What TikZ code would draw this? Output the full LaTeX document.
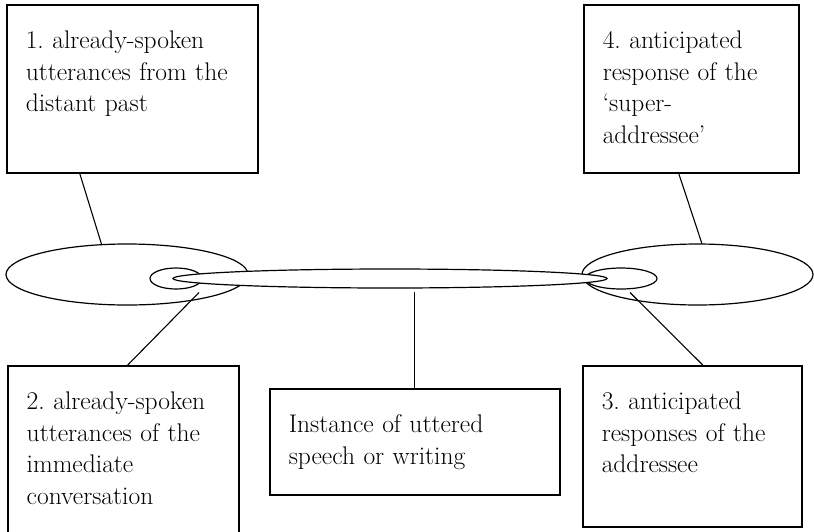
\documentclass[tikz,border=0pt]{standalone}
\usetikzlibrary{shapes.geometric,positioning}

\begin{document}
\frenchspacing
\begin{tikzpicture}[x=1pt,y=-1pt,
    txtbox/.style={draw,line width=1.5pt,anchor=north west,align=left,
        inner xsep=19pt,inner ysep=0pt,text height=43.7pt,
        font=\fontsize{25.5}{31.6}\selectfont},
    ring/.style={draw,ellipse,line width=1.2pt,fill=white,inner sep=0pt},
    link/.style={line width=1.1pt}]
    \clip (0,0) rectangle (814,531);

    % Boxes
    \node[txtbox,text width=213pt,text depth=124.3pt] (past) at (6,4)
        {1. already-spoken\\utterances from the\\distant past};
    \node[txtbox,text width=177pt,text depth=124.3pt] (super) at (583,4)
        {4. anticipated\\response of the\\‘super-\\addressee’};
    \node[txtbox,text width=193pt,text depth=131.3pt] (near) at (7,365)
        {2. already-spoken\\utterances of the\\immediate\\conversation};
    \node[txtbox,text width=252pt,text depth=62.3pt] (utter) at (269,388)
        {Instance of uttered\\speech or writing};
    \node[txtbox,text width=181pt,text depth=117.3pt] (resp) at (582,365)
        {3. anticipated\\responses of the\\addressee};

    % Ellipses
    \node[ring,minimum width=242pt,minimum height=61pt] (pastEll) at (127,274.5) {};
    \node[ring,minimum width=231pt,minimum height=61pt] (superEll) at (697.5,274.5) {};
    \node[ring,minimum width=52pt,minimum height=21pt] (nearEll) at (176,278.5) {};
    \node[ring,minimum width=72pt,minimum height=21pt] (respEll) at (621,278.5) {};
    \node[ring,minimum width=434pt,minimum height=19pt] (utterEll) at (390,278.5) {};

    % Connectors
    \coordinate (nearTip) at (199,292.5);
    \coordinate (respTip) at (630,292.5);
    \draw[link] ([xshift=-52.5pt]past.south) -- (pastEll.130);
    \draw[link] ([xshift=-12.5pt]super.south) -- (superEll.82);
    \draw[link] (nearTip) -- ([xshift=4.5pt]near.north);
    \draw[link] (respTip) -- ([xshift=10.5pt]resp.north);
    \draw[link,shorten <=3pt] (utter.north |- utterEll.south) -- (utter.north);
\end{tikzpicture}
\end{document}
